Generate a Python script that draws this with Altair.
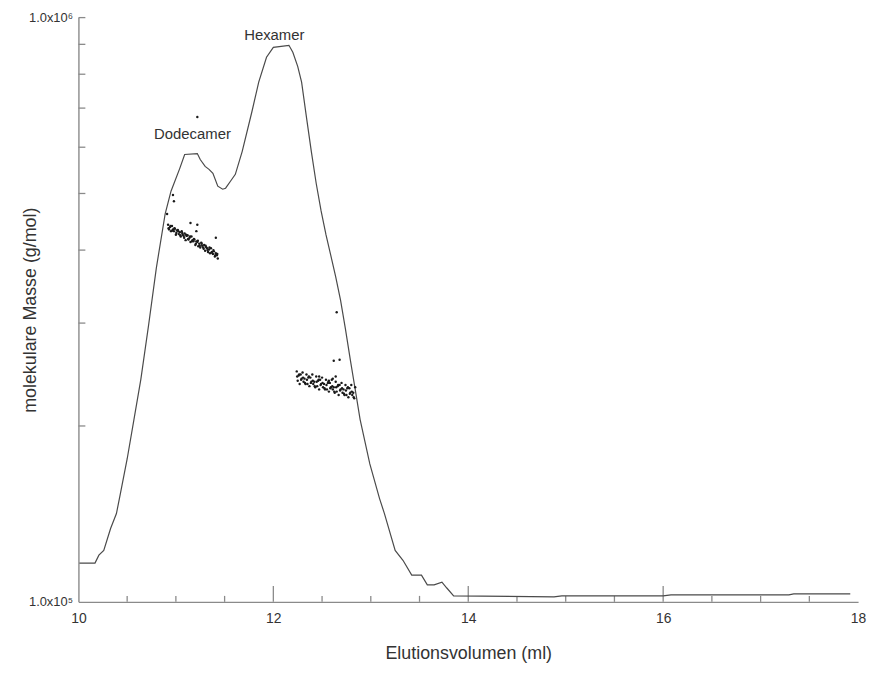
import altair as alt
import pandas as pd

# ---- chromatogram trace (elution volume in ml, plotted on the molar-mass axis) ----
line_x = [10.01, 10.17, 10.21, 10.26, 10.33, 10.39, 10.43, 10.50, 10.57, 10.64,
          10.72, 10.80, 10.89, 10.95, 11.04, 11.09, 11.22, 11.25, 11.30, 11.34,
          11.38, 11.43, 11.48, 11.51, 11.56, 11.61, 11.68, 11.78, 11.85, 11.93,
          12.00, 12.16, 12.20, 12.25, 12.29, 12.34, 12.39, 12.44, 12.49, 12.54,
          12.59, 12.64, 12.69, 12.74, 12.79, 12.84, 12.89,
          12.99, 13.09, 13.14, 13.25, 13.33, 13.42, 13.52, 13.58, 13.65, 13.73,
          13.78, 13.85, 14.88, 14.96, 16.00, 16.08, 17.29, 17.34, 17.92]
line_y = [1.165e5, 1.165e5, 1.202e5, 1.225e5, 1.335e5, 1.416e5, 1.531e5, 1.756e5, 2.053e5, 2.401e5,
          2.977e5, 3.734e5, 4.612e5, 5.045e5, 5.520e5, 5.830e5, 5.852e5, 5.717e5, 5.563e5, 5.498e5,
          5.413e5, 5.145e5, 5.085e5, 5.105e5, 5.247e5, 5.392e5, 5.898e5, 6.900e5, 7.756e5, 8.555e5,
          8.894e5, 8.966e5, 8.723e5, 8.250e5, 7.756e5, 6.750e5, 5.898e5, 5.200e5, 4.667e5, 4.250e5,
          3.913e5, 3.600e5, 3.282e5, 2.930e5, 2.596e5, 2.310e5, 2.053e5,
          1.722e5, 1.502e5, 1.416e5, 1.225e5, 1.178e5, 1.111e5, 1.111e5, 1.069e5, 1.069e5, 1.081e5,
          1.056e5, 1.024e5, 1.020e5, 1.024e5, 1.024e5, 1.028e5, 1.028e5, 1.032e5, 1.032e5]

# ---- molar mass points, dodecamer peak ----
dodec_x = [10.92, 10.93, 10.94, 10.95, 10.96, 10.97, 10.98, 10.99, 11.00, 11.01,
           11.02, 11.03, 11.04, 11.05, 11.06, 11.07, 11.08, 11.09, 11.10, 11.11,
           11.12, 11.13, 11.14, 11.15, 11.16, 11.17, 11.18, 11.19, 11.20, 11.21,
           11.22, 11.23, 11.24, 11.25, 11.26, 11.27, 11.28, 11.29, 11.30, 11.31,
           11.32, 11.33, 11.34, 11.35, 11.36, 11.37, 11.38, 11.39, 11.40, 11.41,
           11.42, 11.43,
           10.925, 10.945, 10.965, 10.985, 11.005, 11.025, 11.045, 11.065, 11.085, 11.105,
           11.125, 11.145, 11.165, 11.185, 11.205, 11.225, 11.245, 11.265, 11.285, 11.305,
           11.325, 11.345, 11.365, 11.385, 11.405, 11.425,
           11.22, 10.97, 10.98, 10.91, 11.15, 11.22, 11.21, 11.41]
dodec_y = [4.42, 4.34, 4.38, 4.31, 4.40, 4.34, 4.31, 4.35, 4.25, 4.32,
           4.33, 4.26, 4.29, 4.22, 4.31, 4.25, 4.23, 4.27, 4.16, 4.23,
           4.24, 4.17, 4.20, 4.13, 4.22, 4.16, 4.14, 4.17, 4.08, 4.14,
           4.13, 4.06, 4.10, 4.04, 4.12, 4.07, 4.04, 4.08, 3.99, 4.05,
           4.03, 3.97, 4.01, 3.95, 4.03, 3.97, 3.94, 3.98, 3.90, 3.95,
           3.92, 3.87,
           4.36, 4.40, 4.32, 4.36, 4.28, 4.31, 4.24, 4.28, 4.20, 4.25,
           4.18, 4.22, 4.14, 4.18, 4.10, 4.15, 4.07, 4.10, 4.02, 4.07,
           4.00, 4.04, 3.96, 4.00, 3.92, 3.94,
           6.76, 4.97, 4.85, 4.61, 4.45, 4.42, 4.31, 4.20]

# ---- molar mass points, hexamer peak ----
hexa_x = [12.24, 12.25, 12.26, 12.27, 12.28, 12.29, 12.30, 12.31, 12.32, 12.33,
          12.34, 12.35, 12.36, 12.37, 12.38, 12.39, 12.40, 12.41, 12.42, 12.43,
          12.44, 12.45, 12.46, 12.47, 12.48, 12.49, 12.50, 12.51, 12.52, 12.53,
          12.54, 12.55, 12.56, 12.57, 12.58, 12.59, 12.60, 12.61, 12.62, 12.63,
          12.64, 12.65, 12.66, 12.67, 12.68, 12.69, 12.70, 12.71, 12.72, 12.73,
          12.74, 12.75, 12.76, 12.77, 12.78, 12.79, 12.80, 12.81, 12.82, 12.83,
          12.84,
          12.245, 12.265, 12.285, 12.305, 12.325, 12.345, 12.365, 12.385, 12.405, 12.425,
          12.445, 12.465, 12.485, 12.505, 12.525, 12.545, 12.565, 12.585, 12.605, 12.625,
          12.645, 12.665, 12.685, 12.705, 12.725, 12.745, 12.765, 12.785, 12.805, 12.825,
          12.65, 12.62, 12.68, 12.64, 12.61, 12.47, 12.57]
hexa_y = [2.48, 2.39, 2.44, 2.36, 2.45, 2.41, 2.47, 2.38, 2.41, 2.36,
          2.45, 2.36, 2.42, 2.34, 2.42, 2.38, 2.45, 2.36, 2.38, 2.33,
          2.43, 2.34, 2.39, 2.31, 2.40, 2.36, 2.42, 2.33, 2.36, 2.31,
          2.40, 2.31, 2.37, 2.29, 2.37, 2.33, 2.40, 2.31, 2.33, 2.28,
          2.38, 2.29, 2.34, 2.26, 2.35, 2.31, 2.37, 2.28, 2.31, 2.26,
          2.35, 2.26, 2.32, 2.24, 2.32, 2.28, 2.35, 2.26, 2.28, 2.23,
          2.33,
          2.43, 2.45, 2.40, 2.42, 2.37, 2.40, 2.43, 2.37, 2.39, 2.34,
          2.38, 2.40, 2.35, 2.37, 2.32, 2.35, 2.38, 2.32, 2.34, 2.29,
          2.33, 2.35, 2.30, 2.32, 2.27, 2.30, 2.33, 2.27, 2.29, 2.24,
          3.13, 2.586, 2.596, 2.43, 2.41, 2.43, 2.39]

# ---- annotations and ticks ----
label_text = ["Dodecamer", "Hexamer"]
label_x = [11.17, 12.01]
label_y = [6.31e5, 9.32e5]

x_label_values = [10, 12, 14, 16, 18]
x_minor_ticks = [10.5, 11, 11.5, 12.5, 13, 13.5, 14.5, 15, 15.5, 16.5, 17, 17.5]
x_major_ticks = [12, 14, 16]
y_tick_values = [2e5, 3e5, 4e5, 5e5, 6e5, 7e5, 8e5, 9e5, 1e6]

W, H = 786, 589
FONT = "Liberation Sans"
AX = "#8a8a8a"
TXT = "#333333"

line_df = pd.DataFrame({"x": line_x, "y": line_y})
pts_df = pd.DataFrame({"x": dodec_x + hexa_x,
                       "y": [v * 1e5 for v in dodec_y + hexa_y]})
lab_df = pd.DataFrame({"t": label_text, "x": label_x, "y": label_y})
xminor_df = pd.DataFrame({"v": x_minor_ticks})
xmajor_df = pd.DataFrame({"v": x_major_ticks})
ytick_df = pd.DataFrame({"v": y_tick_values})

xs = alt.Scale(domain=[10, 18], nice=False, zero=False)
ys = alt.Scale(type="log", domain=[1e5, 1e6], nice=False)

x_axis = alt.Axis(values=x_label_values, format="d", tickSize=0, grid=False, labelFlush=False,
                  labelFontSize=14, labelPadding=10, labelColor=TXT, labelFont=FONT,
                  domainColor=AX, domainWidth=1.4,
                  title="Elutionsvolumen (ml)", titleFont=FONT, titleFontSize=18,
                  titleFontWeight="normal", titleColor=TXT,
                  titleX=W / 2, titleY=52, titleBaseline="middle")
y_axis = alt.Axis(values=[1e5, 1e6],
                  labelExpr="datum.value >= 999999 ? '1.0x10⁶' : '1.0x10⁵'",
                  tickSize=0, grid=False, labelFontSize=13, labelPadding=6,
                  labelColor=TXT, labelFont=FONT, labelBaseline="middle",
                  domainColor=AX, domainWidth=1.4,
                  title="molekulare Masse (g/mol)", titleFont=FONT, titleFontSize=18,
                  titleFontWeight="normal", titleColor=TXT,
                  titleX=-48, titleY=H / 2, titleBaseline="middle", titleAngle=-90)

trace = alt.Chart(line_df).mark_line(color="#4a4a4a", strokeWidth=1.2).encode(
    x=alt.X("x:Q", scale=xs, axis=x_axis),
    y=alt.Y("y:Q", scale=ys, axis=y_axis),
)

points = alt.Chart(pts_df).mark_circle(color="#1a1a1a", size=6, opacity=1).encode(
    x=alt.X("x:Q", scale=xs), y=alt.Y("y:Q", scale=ys))

labels = alt.Chart(lab_df).mark_text(font=FONT, fontSize=15, color=TXT).encode(
    x=alt.X("x:Q", scale=xs), y=alt.Y("y:Q", scale=ys), text="t:N")

xminor = alt.Chart(xminor_df).mark_rule(color=AX, strokeWidth=1.3).encode(
    x=alt.X("v:Q", scale=xs), y=alt.value(H), y2=alt.value(H - 6))
xmajor = alt.Chart(xmajor_df).mark_rule(color=AX, strokeWidth=1.3).encode(
    x=alt.X("v:Q", scale=xs), y=alt.value(H), y2=alt.value(H - 16))
yticks = alt.Chart(ytick_df).mark_rule(color=AX, strokeWidth=1.3).encode(
    y=alt.Y("v:Q", scale=ys), x=alt.value(0), x2=alt.value(7))

chart = alt.layer(xminor, xmajor, yticks, trace, points, labels).properties(
    width=W, height=H,
    autosize=alt.AutoSizeParams(type="none"),
    padding={"left": 71, "top": 7, "right": 9, "bottom": 62},
    background="white",
).configure_view(stroke=None)

chart.save("out.html", embed_options={"renderer": "svg", "actions": False})
